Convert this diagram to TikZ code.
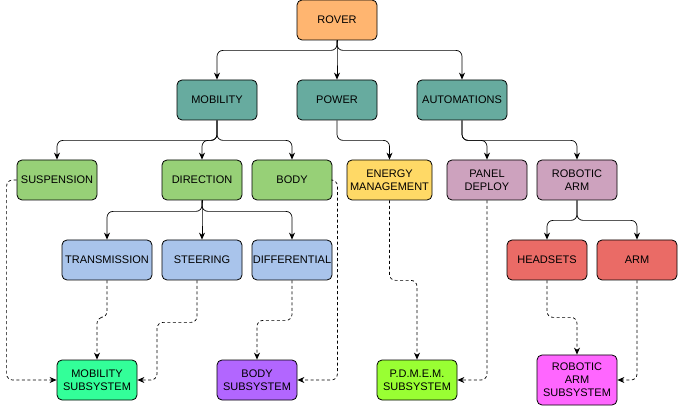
\documentclass[tikz,border=0pt]{standalone}
\usepackage{fontspec}
\setmainfont{Liberation Sans}
\usetikzlibrary{arrows.meta}
\definecolor{roverc}{HTML}{FFB570}
\definecolor{sysc}{HTML}{67AB9F}
\definecolor{greenc}{HTML}{97D077}
\definecolor{yellowc}{HTML}{FFD966}
\definecolor{purplec}{HTML}{CDA2BE}
\definecolor{bluec}{HTML}{A9C4EB}
\definecolor{redc}{HTML}{EA6B66}
\definecolor{mobsubc}{HTML}{33FF99}
\definecolor{bodysubc}{HTML}{B266FF}
\definecolor{pdmc}{HTML}{99FF33}
\definecolor{rasubc}{HTML}{FF66FF}

\begin{document}
\begin{tikzpicture}[x=1pt,y=-1pt,font=\fontsize{11}{13}\selectfont]
\tikzset{box/.style={draw,rounded corners=5pt,line width=0.8pt,minimum width=80pt,minimum height=40pt,inner sep=0pt,align=center},
  link/.style={-{Stealth[length=7pt,width=6pt]},line width=0.7pt,rounded corners=6pt},
  sublink/.style={link,dash pattern=on 3pt off 2.5pt}}
\useasboundingbox (0,0) rectangle (678,406);
% tree
\node[box,fill=roverc] (rover) at (337,20) {ROVER};
\node[box,fill=sysc] (mob) at (217,100) {MOBILITY};
\node[box,fill=sysc] (power) at (337,100) {POWER};
\node[box,fill=sysc,minimum width=90pt] (auto) at (462,100) {AUTOMATIONS};
\node[box,fill=greenc] (susp) at (57,180) {SUSPENSION};
\node[box,fill=greenc] (dir) at (202,180) {DIRECTION};
\node[box,fill=greenc] (body) at (292,180) {BODY};
\node[box,fill=yellowc,minimum width=85pt] (energy) at (389.5,180) {ENERGY\\MANAGEMENT};
\node[box,fill=purplec] (panel) at (487,180) {PANEL\\DEPLOY};
\node[box,fill=purplec] (robarm) at (577,180) {ROBOTIC\\ARM};
\node[box,fill=bluec,minimum width=90pt] (trans) at (107,260) {TRANSMISSION};
\node[box,fill=bluec] (steer) at (202,260) {STEERING};
\node[box,fill=bluec] (diff) at (292,260) {DIFFERENTIAL};
\node[box,fill=redc] (head) at (547,260) {HEADSETS};
\node[box,fill=redc] (arm) at (637,260) {ARM};
% subsystems
\node[box,fill=mobsubc] (mobsub) at (97,380) {MOBILITY\\SUBSYSTEM};
\node[box,fill=bodysubc] (bodysub) at (257,380) {BODY\\SUBSYSTEM};
\node[box,fill=pdmc] (pdm) at (417,380) {P.D.M.E.M.\\SUBSYSTEM};
\node[box,fill=rasubc,minimum height=50pt] (rasub) at (577,380) {ROBOTIC\\ARM\\SUBSYSTEM};

\foreach \t in {mob,power,auto}
  \draw[link] (rover.south) -- ++(0,10) -| (\t.north);
\foreach \t in {susp,dir,body}
  \draw[link] (mob.south) -- ++(0,20) -| (\t.north);
\draw[link] (power.south) -- ++(0,20) -| (energy.north);
\foreach \t in {panel,robarm}
  \draw[link] (auto.south) -- ++(0,20) -| (\t.north);
\foreach \t in {trans,steer,diff}
  \draw[link] (dir.south) -- ++(0,11) -| (\t.north);
\foreach \t in {head,arm}
  \draw[link] (robarm.south) -- ++(0,20) -| (\t.north);

\draw[sublink] (susp.west) -- ++(-10,0) |- (mobsub.west);
\draw[sublink] (trans.south) -- ++(0,37) -| (mobsub.north);
\draw[sublink] ([xshift=-5pt]steer.south) -- ++(0,42) -- ++(-40,0) |- (mobsub.east);
\draw[sublink] (diff.south) -- ++(0,40) -| (bodysub.north);
\draw[sublink] (body.east) -- ++(5,0) |- (bodysub.east);
\draw[sublink] (energy.south) -- ++(0,80) -| (pdm.north);
\draw[sublink] (panel.south) |- (pdm.east);
\draw[sublink] (head.south) -- ++(0,37) -| (rasub.north);
\draw[sublink] (arm.south) |- (rasub.east);
\end{tikzpicture}
\end{document}
